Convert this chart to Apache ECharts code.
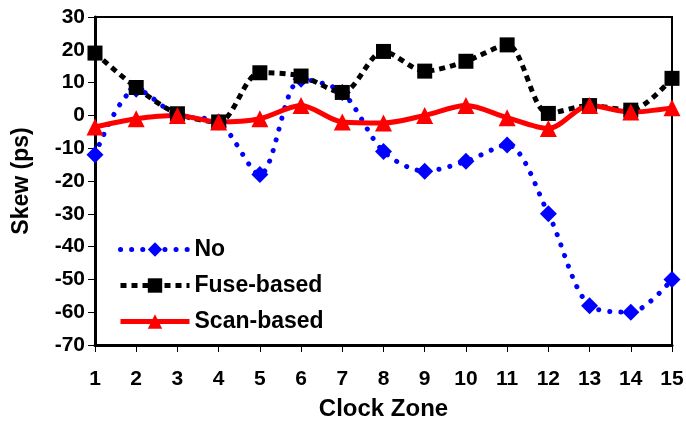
<!DOCTYPE html>
<html><head><meta charset="utf-8">
<script src="https://cdn.jsdelivr.net/npm/echarts@6/dist/echarts.min.js"></script>
<style>html,body{margin:0;padding:0;background:#fff}#c{width:686px;height:422px}</style>
</head><body><div id="c"></div>
<script>
const zones = ['1','2','3','4','5','6','7','8','9','10','11','12','13','14','15'];
const noVals = [-12, 8, 0, -2, -18, 11, 7, -11, -17, -14, -9, -30, -58, -60, -50];
const fuseVals = [19, 8.5, 0.5, -2, 13, 12, 7, 19.5, 13.5, 16.5, 21.5, 0.6, 3, 1.6, 11.3];
const scanVals = [-3.5, -1, 0, -2, -1, 3, -2, -2.3, 0, 3, -0.7, -4, 3, 1, 2.3];
const yTicks = {min: -70, max: 30, interval: 10};

const FONT = '"Liberation Sans", Arial, sans-serif';
const chart = echarts.init(document.getElementById('c'));
chart.setOption({
  animation: false,
  backgroundColor: '#fff',
  grid: {left: 95, right: 14, top: 17, bottom: 77, show: true, borderColor: '#000', borderWidth: 2,
         containLabel: false, outerBoundsMode: 'none'},
  legend: {
    orient: 'vertical', left: 113, top: 233, itemGap: 13, itemWidth: 69, itemHeight: 18,
    textStyle: {fontFamily: FONT, fontWeight: 'bold', fontSize: 23, color: '#000'},
    data: [
      {name: 'No', lineStyle: {width: 5, type: [0.1, 11], cap: 'round'}},
      {name: 'Fuse-based', lineStyle: {width: 5, type: [6, 5]}},
      {name: 'Scan-based', lineStyle: {width: 5}}
    ]
  },
  xAxis: {
    type: 'category', data: zones, boundaryGap: false,
    name: 'Clock Zone', nameLocation: 'middle', nameGap: 52,
    nameTextStyle: {fontFamily: FONT, fontWeight: 'bold', fontSize: 24, color: '#000'},
    axisLine: {onZero: false, lineStyle: {color: '#000', width: 3}},
    axisTick: {show: true, length: 7, lineStyle: {color: '#000', width: 1}},
    axisLabel: {margin: 24, fontFamily: FONT, fontWeight: 'bold', fontSize: 21, color: '#000'},
    splitLine: {show: false}
  },
  yAxis: {
    type: 'value', min: yTicks.min, max: yTicks.max, interval: yTicks.interval,
    name: 'Skew (ps)', nameLocation: 'middle', nameGap: 62,
    nameTextStyle: {fontFamily: FONT, fontWeight: 'bold', fontSize: 23, color: '#000'},
    axisLine: {show: true, onZero: false, lineStyle: {color: '#000', width: 3}},
    axisTick: {show: true, length: 7, lineStyle: {color: '#000', width: 1}},
    axisLabel: {margin: 10, fontFamily: FONT, fontWeight: 'bold', fontSize: 21, color: '#000'},
    splitLine: {show: false}
  },
  series: [
    {name: 'No', type: 'line', data: noVals, smooth: 0.3,
     symbol: 'diamond', symbolSize: 17,
     itemStyle: {color: '#0000ff'},
     lineStyle: {color: '#0000ff', width: 5, type: [0.1, 11], cap: 'round'}},
    {name: 'Fuse-based', type: 'line', data: fuseVals, smooth: 0.3,
     symbol: 'rect', symbolSize: 15,
     itemStyle: {color: '#000'},
     lineStyle: {color: '#000', width: 5, type: [6, 5]}},
    {name: 'Scan-based', type: 'line', data: scanVals, smooth: 0.3,
     symbol: 'triangle', symbolSize: 17,
     itemStyle: {color: '#ff0000'},
     lineStyle: {color: '#ff0000', width: 5}}
  ]
});
</script></body></html>
